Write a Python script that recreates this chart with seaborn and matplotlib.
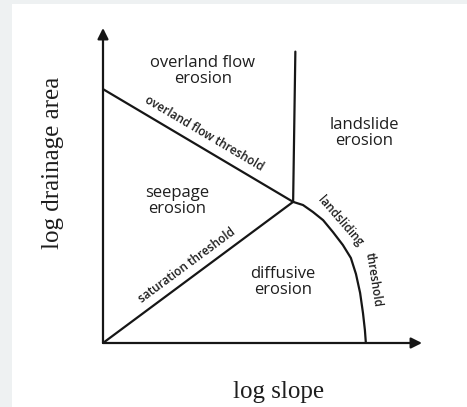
import pandas as pd
import seaborn as sns
import matplotlib.pyplot as plt
from matplotlib.patches import Rectangle

# threshold lines (log slope, log drainage area)
overland_x = [0.0, 5.96]
overland_y = [8.06, 4.48]
saturation_x = [0.0, 5.96]
saturation_y = [0.0, 4.48]
vertical_x = [5.96, 6.03]
vertical_y = [4.48, 9.25]
landslide_x = [5.96, 6.27, 6.58, 6.90, 7.21, 7.52, 7.77, 7.93, 8.06, 8.15, 8.21, 8.24]
landslide_y = [4.48, 4.38, 4.16, 3.90, 3.52, 3.11, 2.70, 2.19, 1.59, 0.95, 0.41, 0.0]

region_labels = ['overland flow\nerosion', 'landslide\nerosion', 'seepage\nerosion', 'diffusive\nerosion']
region_x = [3.13, 8.18, 2.32, 5.64]
region_y = [8.64, 6.67, 4.51, 1.94]

sns.set_style('white')
col = '#161616'
tcol = '#1e1e1e'

fig = plt.figure(figsize=(4.67, 4.07), dpi=100)
fig.patch.set_facecolor('#eef1f2')
fig.patches.append(Rectangle((12 / 467, 0), 1, 1 - 4 / 407, transform=fig.transFigure,
                             facecolor='white', edgecolor='none', zorder=-10))

ax = fig.add_axes([103 / 467, (407 - 343) / 407, 319 / 467, 315 / 407])
ax.set_facecolor('none')
ax.set_xlim(0, 10)
ax.set_ylim(0, 10)
ax.axis('off')

# axes with arrows
arrow = dict(arrowstyle='-|>', lw=1.6, color=col, mutation_scale=16, shrinkA=0, shrinkB=0)
ax.annotate('', xy=(10, 0), xytext=(0, 0), arrowprops=arrow)
ax.annotate('', xy=(0, 10), xytext=(0, 0), arrowprops=arrow)

lines = [(overland_x, overland_y), (saturation_x, saturation_y),
         (vertical_x, vertical_y), (landslide_x, landslide_y)]
for xs, ys in lines:
    df = pd.DataFrame({'x': xs, 'y': ys})
    sns.lineplot(data=df, x='x', y='y', sort=False, estimator=None, color=col, lw=1.6, ax=ax)

font = 'Open Sans'
for lab, x, y in zip(region_labels, region_x, region_y):
    ax.text(x, y, lab, ha='center', va='center', fontsize=12, family=font,
            color=tcol, linespacing=1.0)

small = dict(ha='center', va='center', fontsize=8.5, family=font, color=tcol,
             rotation_mode='anchor', weight='semibold')
ax.text(3.16, 6.65, 'overland flow threshold', rotation=-30.6, **small)
ax.text(2.62, 2.45, 'saturation threshold', rotation=36.5, **small)
ax.text(7.45, 3.86, 'landsliding', rotation=-49, **small)
ax.text(8.47, 2.0, 'threshold', rotation=-81, **small)

# axis titles
ax.text(-0.157, 0.571, 'log drainage area', transform=ax.transAxes, rotation=90,
        ha='center', va='center', fontsize=18, family='Liberation Serif', color=tcol)
ax.text(0.549, -0.155, 'log slope', transform=ax.transAxes,
        ha='center', va='center', fontsize=18, family='Liberation Serif', color=tcol)

fig.savefig('out.png', dpi=100)
